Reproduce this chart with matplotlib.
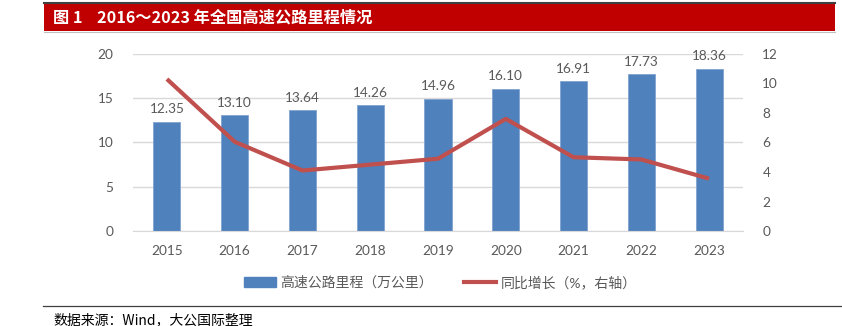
import numpy as np
import matplotlib
matplotlib.use("Agg")
import matplotlib.pyplot as plt
from matplotlib.patches import Rectangle
from matplotlib.lines import Line2D

plt.rcParams['font.family'] = ['Lato', 'Noto Sans CJK SC', 'DejaVu Sans']

#-----------data-----------------------
years = ['2015', '2016', '2017', '2018', '2019', '2020', '2021', '2022', '2023']
mileage = [12.35, 13.10, 13.64, 14.26, 14.96, 16.10, 16.91, 17.73, 18.36]   # 万公里
growth = [10.3, 6.05, 4.1, 4.5, 4.9, 7.6, 5.0, 4.85, 3.55]                    # %

bar_color = '#4F81BD'
line_color = '#C0504D'
grey = '#595959'

fig = plt.figure(figsize=(8.42, 3.26), dpi=100)
ax = fig.add_axes([0.158, 0.2914, 0.7244, 0.543])
ax2 = ax.twinx()

x = np.arange(len(years))
bars = ax.bar(x, mileage, width=0.4, color=bar_color, edgecolor='#7FA3D0', linewidth=0.6, zorder=2)
ax2.plot(x, growth, color=line_color, linewidth=3, solid_capstyle='butt', zorder=3)

for xi, v in zip(x, mileage):
    ax.text(xi, v + 0.7, f'{v:.2f}', ha='center', va='bottom', fontsize=9.8, color=grey)

ax.set_xlim(-0.5, 8.5)
ax.set_ylim(0, 20)
ax.set_yticks([0, 5, 10, 15, 20])
ax2.set_ylim(0, 12)
ax2.set_yticks(range(0, 13, 2))
ax.set_xticks(x)
ax.set_xticklabels(years)

ax.grid(axis='y', color='#D9D9D9', linewidth=1, zorder=0)
ax.set_axisbelow(True)
for a in (ax, ax2):
    for s in a.spines.values():
        s.set_visible(False)
    a.tick_params(length=0, labelsize=9.8, colors=grey)
ax.spines['bottom'].set_visible(True)
ax.spines['bottom'].set_color('#D9D9D9')
ax.tick_params(axis='x', pad=10)
ax.tick_params(axis='y', pad=14)
ax2.tick_params(axis='y', pad=14)

# legend
handles = [Rectangle((0, 0), 1, 1, color=bar_color),
           Line2D([0], [0], color=line_color, linewidth=3)]
fig.legend(handles, ['高速公路里程（万公里）', '同比增长（%，右轴）'],
           loc='center', bbox_to_anchor=(440 / 842, 1 - 282 / 326), ncol=2, frameon=False,
           fontsize=10, labelcolor=grey, handlelength=2.3, handletextpad=0.3,
           columnspacing=2.3, borderpad=0, borderaxespad=0)

# title band
fig.add_artist(Rectangle((44 / 842, 1 - 31 / 326), (835 - 44) / 842, 28 / 326,
                         transform=fig.transFigure, facecolor='#C00000', edgecolor='none'))
fig.add_artist(Line2D([44 / 842, 835 / 842], [1 - 2.5 / 326] * 2, transform=fig.transFigure,
                      color='#404040', linewidth=1.5))
fig.add_artist(Line2D([44 / 842, 835 / 842], [1 - 32 / 326] * 2, transform=fig.transFigure,
                      color='#BFBFBF', linewidth=0.8))
fig.text(53 / 842, 1 - 18 / 326, '图 1    2016～2023 年全国高速公路里程情况', ha='left', va='center',
         fontsize=11.7, color='white', fontweight='bold',
         family=['Noto Sans CJK SC', 'DejaVu Sans'])

# footer
fig.add_artist(Line2D([43 / 842, 842 / 842], [1 - 306 / 326] * 2, transform=fig.transFigure,
                      color='#404040', linewidth=0.9))
fig.text(53 / 842, 1 - 320 / 326, '数据来源：Wind，大公国际整理', ha='left', va='center',
         fontsize=10, color='black', family=['Noto Sans CJK SC', 'DejaVu Sans'])

fig.savefig('out.png', dpi=100)
